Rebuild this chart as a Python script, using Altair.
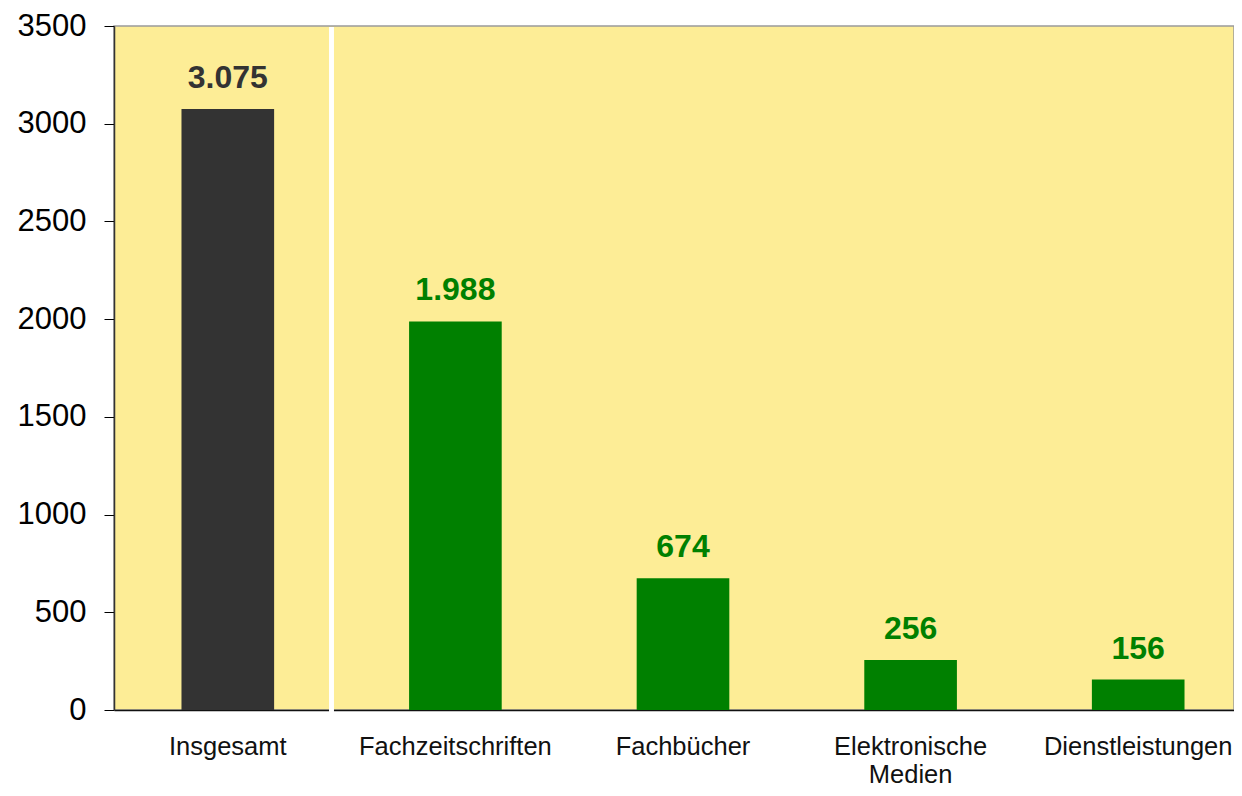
import altair as alt
import pandas as pd

categories = ["Insgesamt", "Fachzeitschriften", "Fachbücher", "Elektronische Medien", "Dienstleistungen"]
values = [3075, 1988, 674, 256, 156]
value_labels = ["3.075", "1.988", "674", "256", "156"]
groups = ["gesamt", "teil", "teil", "teil", "teil"]
y_ticks = [0, 500, 1000, 1500, 2000, 2500, 3000, 3500]

df = pd.DataFrame({"cat": categories, "value": values, "label": value_labels, "group": groups})

FONT = "Liberation Sans"
color_scale = alt.Scale(domain=["gesamt", "teil"], range=["#333333", "#008000"])

x_enc = alt.X(
    "cat:N",
    sort=categories,
    scale=alt.Scale(range=[0, 1138], paddingInner=0.593, paddingOuter=0.2965),
    axis=alt.Axis(
        title=None, labelAngle=0, labelFontSize=25.5, labelFont=FONT, labelColor="#111111",
        ticks=False, tickSize=0, labelPadding=24, domainColor="#111111", domainWidth=1.5,
        labelLineHeight=28, labelLimit=400,
        labelExpr="datum.value == 'Elektronische Medien' ? ['Elektronische', 'Medien'] : datum.label",
    ),
)
y_enc = alt.Y(
    "value:Q",
    scale=alt.Scale(domain=[0, 3500], nice=False),
    axis=alt.Axis(
        title=None, values=y_ticks, grid=False, labelFontSize=31, labelFont=FONT,
        labelColor="#000000", tickSize=10, tickColor="#000000", labelPadding=18,
        domainColor="#333333", domainWidth=1.5, format="d",
    ),
)

bars = alt.Chart(df).mark_bar().encode(
    x=x_enc, y=y_enc,
    color=alt.Color("group:N", scale=color_scale, legend=None),
)

texts = alt.Chart(df).mark_text(
    dy=-21, baseline="alphabetic", fontSize=32, fontWeight="bold", font=FONT
).encode(
    x=alt.X("cat:N", sort=categories),
    y=alt.Y("value:Q"),
    text="label:N",
    color=alt.Color("group:N", scale=color_scale, legend=None),
)

sep = alt.Chart(df).mark_rule(color="white", strokeWidth=4).encode(
    x=alt.value(217.5), y=alt.value(1), y2=alt.value(687)
)

chart = alt.layer(bars, sep, texts).properties(
    width=1120, height=684,
    padding={"left": 106, "top": 18, "right": 0, "bottom": 78},
    autosize=alt.AutoSizeParams(type="none"),
).configure_view(
    fill="#FDED96", stroke="#9a9a9a", strokeWidth=1.5
)

chart.save("out.html", embed_options={"renderer": "svg", "actions": False})
